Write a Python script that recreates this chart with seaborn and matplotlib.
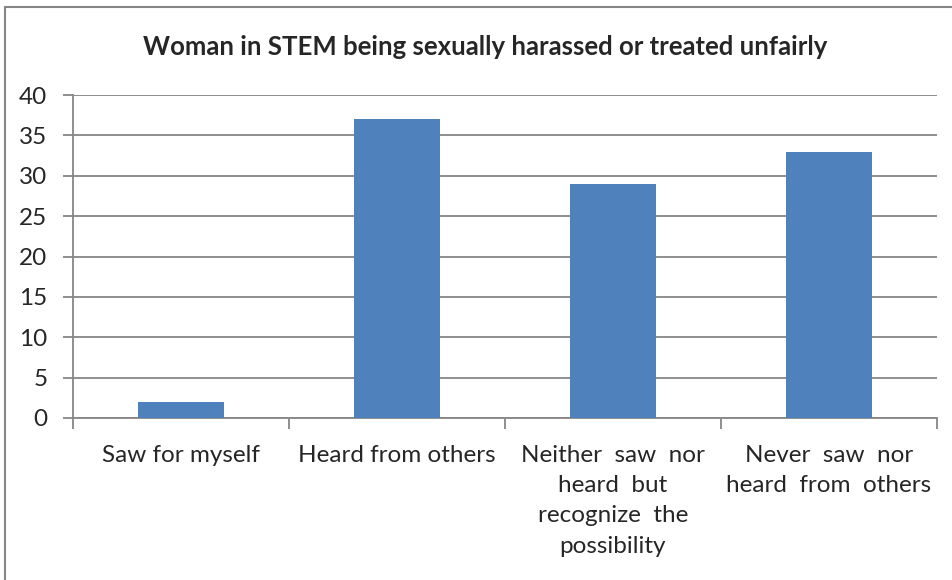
import matplotlib
matplotlib.use("Agg")
import matplotlib.pyplot as plt
from matplotlib.lines import Line2D
import seaborn as sns
import pandas as pd

# Survey responses
categories = [
    "Saw for myself",
    "Heard from others",
    "Neither  saw  nor\nheard  but\nrecognize  the\npossibility",
    "Never  saw  nor\nheard  from  others",
]
counts = [2, 37, 29, 33]
y_ticks = [0, 5, 10, 15, 20, 25, 30, 35, 40]
title = "Woman in STEM being sexually harassed or treated unfairly"

df = pd.DataFrame({"category": categories, "count": counts})

sns.set_theme(style="white")
plt.rcParams["font.family"] = ["Lato", "DejaVu Sans"]

W, H = 953, 580
fig = plt.figure(figsize=(W / 100, H / 100), dpi=100)
ax = fig.add_axes([73 / W, 1 - 418 / H, (937 - 73) / W, (418 - 95) / H])

grid_col = "#868686"
sns.barplot(data=df, x="category", y="count", color="#4F81BD", width=0.4,
            saturation=1, ax=ax, zorder=3, edgecolor="none")

ax.set_ylim(0, 40)
ax.set_xlim(-0.5, len(categories) - 0.5)
ax.set_yticks(y_ticks)
ax.set_yticklabels([str(v) for v in y_ticks], fontsize=17.5)
ax.yaxis.grid(True, color=grid_col, linewidth=1.3, zorder=0)
ax.set_xlabel("")
ax.set_ylabel("")

# category boundaries carry the tick marks
ax.set_xticks([i - 0.5 for i in range(len(categories) + 1)])
ax.set_xticklabels([])
ax.tick_params(axis="x", length=8, width=1.3, color=grid_col, direction="out", bottom=True)
ax.tick_params(axis="y", length=7, width=1.3, color=grid_col, direction="out", left=True, pad=11.5)
for i, lab in enumerate(categories):
    ax.text(i, -3.3, lab, ha="center", va="top", fontsize=17.5, linespacing=1.55)

for s in ["top", "right"]:
    ax.spines[s].set_visible(False)
for s in ["left", "bottom"]:
    ax.spines[s].set_color(grid_col)
    ax.spines[s].set_linewidth(1.3)

fig.text(485 / W, 1 - 47 / H, title, ha="center", va="center",
         fontsize=18.5, fontweight="bold")

# chart frame
fig.add_artist(Line2D([5 / W, 5 / W], [0, 1 - 7 / H], transform=fig.transFigure,
                      color=grid_col, linewidth=1.5))
fig.add_artist(Line2D([5 / W, 1], [1 - 7 / H, 1 - 7 / H], transform=fig.transFigure,
                      color=grid_col, linewidth=1.5))

fig.savefig("out.png", dpi=100, facecolor="white")
